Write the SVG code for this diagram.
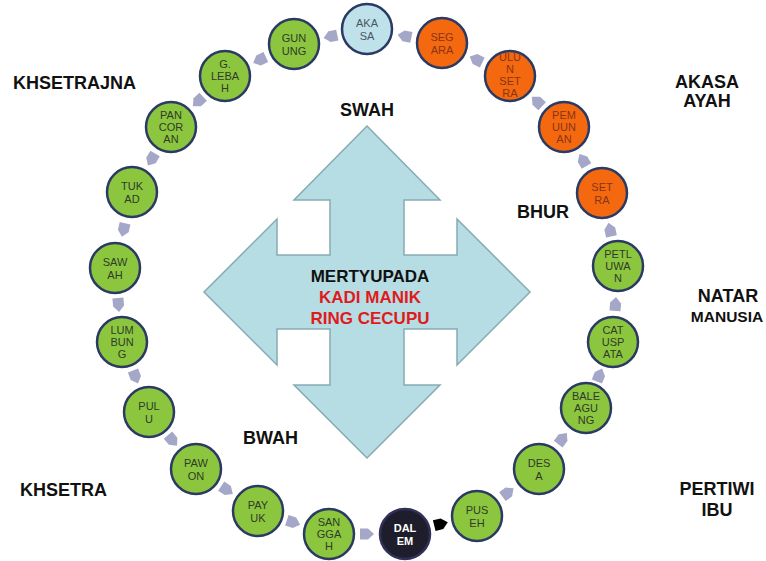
<svg xmlns="http://www.w3.org/2000/svg" width="766" height="561" viewBox="0 0 766 561">
<defs>
<style>
.lbl{font-family:"Liberation Sans",Arial,sans-serif;font-weight:bold;font-size:18px;fill:#111;}
.ct{font-family:"Liberation Sans",Arial,sans-serif;font-size:11px;text-anchor:middle;}
.n circle{stroke:#2b3a63;stroke-width:2.5;}
.g circle{fill:#8cc63e;}
.g text{fill:#2f3a2a;}
.o circle{fill:#f4690f;}
.o text{fill:#8a3414;}
.b circle{fill:#bfe1ea;}
.b text{fill:#4a5560;}
.d circle{fill:#1d1d2b;stroke:#30305a;}
.d text{fill:#fff;font-weight:bold;}
.ar{fill:#a5a7c9;}
.ctr{font-family:"Liberation Sans",Arial,sans-serif;font-weight:bold;font-size:17px;text-anchor:middle;}
</style>
<path id="arr" d="M-7,-5.5 L1,-5.5 L7,0 L1,5.5 L-7,5.5 Z"/>
</defs>
<rect width="766" height="561" fill="#fff"/>

<g id="cross">
<path d="M367,126 L440,200 L404,200 L404,255 L457,255 L457,219 L530,292 L457,365 L457,329 L404,329 L404,385 L440,385 L367,458 L294,385 L330,385 L330,329 L277,329 L277,365 L204,292 L277,219 L277,255 L330,255 L330,200 L294,200 Z" fill="#b6dde3" stroke="#86aab2" stroke-width="1.5"/>
<text class="ctr" x="370" y="282" fill="#111">MERTYUPADA</text>
<text class="ctr" x="370" y="303" fill="#e01b1b">KADI MANIK</text>
<text class="ctr" x="370" y="324" fill="#e01b1b">RING CECUPU</text>
</g>

<g id="labels">
<text class="lbl" x="13" y="89">KHSETRAJNA</text>
<text class="lbl" x="367" y="116" text-anchor="middle">SWAH</text>
<text class="lbl" x="707" y="88" text-anchor="middle">AKASA</text>
<text class="lbl" x="707" y="107" text-anchor="middle">AYAH</text>
<text class="lbl" x="517" y="218">BHUR</text>
<text class="lbl" x="728" y="302" text-anchor="middle">NATAR</text>
<text class="lbl" x="727" y="322" text-anchor="middle" style="font-size:15.5px">MANUSIA</text>
<text class="lbl" x="243" y="444">BWAH</text>
<text class="lbl" x="20" y="496">KHSETRA</text>
<text class="lbl" x="717" y="495" text-anchor="middle">PERTIWI</text>
<text class="lbl" x="717" y="516" text-anchor="middle">IBU</text>
</g>

<g id="connectors">
<use href="#arr" transform="translate(441,524) rotate(-14)" fill="#000"/>
<use href="#arr" class="ar" transform="translate(508,492.5) rotate(-37)"/>
<use href="#arr" class="ar" transform="translate(562.5,438.5) rotate(-52)"/>
<use href="#arr" class="ar" transform="translate(599.5,375) rotate(-68)"/>
<use href="#arr" class="ar" transform="translate(615.5,304) rotate(-86)"/>
<use href="#arr" class="ar" transform="translate(610,229.5) rotate(-102)"/>
<use href="#arr" class="ar" transform="translate(583,160) rotate(-120)"/>
<use href="#arr" class="ar" transform="translate(537,101.5) rotate(-137)"/>
<use href="#arr" class="ar" transform="translate(476,59.5) rotate(-154)"/>
<use href="#arr" class="ar" transform="translate(404.5,36) rotate(-169)"/>
<use href="#arr" class="ar" transform="translate(330.5,36.5) rotate(168)"/>
<use href="#arr" class="ar" transform="translate(259.5,60) rotate(155)"/>
<use href="#arr" class="ar" transform="translate(198,101.5) rotate(137)"/>
<use href="#arr" class="ar" transform="translate(151.5,159.5) rotate(121)"/>
<use href="#arr" class="ar" transform="translate(123.5,230) rotate(103)"/>
<use href="#arr" class="ar" transform="translate(118.5,305) rotate(85)"/>
<use href="#arr" class="ar" transform="translate(135.5,377) rotate(69)"/>
<use href="#arr" class="ar" transform="translate(172.5,440.5) rotate(50)"/>
<use href="#arr" class="ar" transform="translate(227,490) rotate(34)"/>
<use href="#arr" class="ar" transform="translate(293.5,522.5) rotate(18)"/>
<use href="#arr" class="ar" transform="translate(367,534) rotate(0)"/>
</g>

<g id="dalem" class="n d"><circle cx="405" cy="534" r="25"/><text class="ct" x="405" y="532">DAL</text><text class="ct" x="405" y="545">EM</text></g>
<g id="puseh" class="n g"><circle cx="477" cy="516" r="25"/><text class="ct" x="477" y="514">PUS</text><text class="ct" x="477" y="527">EH</text></g>
<g id="desa" class="n g"><circle cx="539" cy="469" r="25"/><text class="ct" x="539" y="467">DES</text><text class="ct" x="539" y="480">A</text></g>
<g id="baleagung" class="n g"><circle cx="586" cy="408" r="25"/><text class="ct" x="586" y="400">BALE</text><text class="ct" x="586" y="412">AGU</text><text class="ct" x="586" y="424">NG</text></g>
<g id="catuspata" class="n g"><circle cx="613" cy="342" r="25"/><text class="ct" x="613" y="334">CAT</text><text class="ct" x="613" y="346">USP</text><text class="ct" x="613" y="358">ATA</text></g>
<g id="petluwan" class="n g"><circle cx="618" cy="266" r="25"/><text class="ct" x="618" y="258">PETL</text><text class="ct" x="618" y="270">UWA</text><text class="ct" x="618" y="282">N</text></g>
<g id="setra" class="n o"><circle cx="602" cy="193" r="25"/><text class="ct" x="602" y="191">SET</text><text class="ct" x="602" y="204">RA</text></g>
<g id="pemuunan" class="n o"><circle cx="564" cy="127" r="25"/><text class="ct" x="564" y="119">PEM</text><text class="ct" x="564" y="131">UUN</text><text class="ct" x="564" y="143">AN</text></g>
<g id="ulunsetra" class="n o"><circle cx="510" cy="76" r="25"/><text class="ct" x="510" y="61">ULU</text><text class="ct" x="510" y="73">N</text><text class="ct" x="510" y="85">SET</text><text class="ct" x="510" y="97">RA</text></g>
<g id="segara" class="n o"><circle cx="442" cy="43" r="25"/><text class="ct" x="442" y="41">SEG</text><text class="ct" x="442" y="54">ARA</text></g>
<g id="akasa" class="n b"><circle cx="367" cy="29" r="25"/><text class="ct" x="367" y="27">AKA</text><text class="ct" x="367" y="40">SA</text></g>
<g id="gunung" class="n g"><circle cx="294" cy="44" r="25"/><text class="ct" x="294" y="42">GUN</text><text class="ct" x="294" y="55">UNG</text></g>
<g id="glebah" class="n g"><circle cx="225" cy="76" r="25"/><text class="ct" x="225" y="68">G.</text><text class="ct" x="225" y="80">LEBA</text><text class="ct" x="225" y="92">H</text></g>
<g id="pancoran" class="n g"><circle cx="171" cy="127" r="25"/><text class="ct" x="171" y="119">PAN</text><text class="ct" x="171" y="131">COR</text><text class="ct" x="171" y="143">AN</text></g>
<g id="tukad" class="n g"><circle cx="132" cy="192" r="25"/><text class="ct" x="132" y="190">TUK</text><text class="ct" x="132" y="203">AD</text></g>
<g id="sawah" class="n g"><circle cx="115" cy="268" r="25"/><text class="ct" x="115" y="266">SAW</text><text class="ct" x="115" y="279">AH</text></g>
<g id="lumbung" class="n g"><circle cx="122" cy="342" r="25"/><text class="ct" x="122" y="334">LUM</text><text class="ct" x="122" y="346">BUN</text><text class="ct" x="122" y="358">G</text></g>
<g id="pulu" class="n g"><circle cx="149" cy="412" r="25"/><text class="ct" x="149" y="410">PUL</text><text class="ct" x="149" y="423">U</text></g>
<g id="pawon" class="n g"><circle cx="196" cy="469" r="25"/><text class="ct" x="196" y="467">PAW</text><text class="ct" x="196" y="480">ON</text></g>
<g id="payuk" class="n g"><circle cx="258" cy="511" r="25"/><text class="ct" x="258" y="509">PAY</text><text class="ct" x="258" y="522">UK</text></g>
<g id="sanggah" class="n g"><circle cx="329" cy="534" r="25"/><text class="ct" x="329" y="526">SAN</text><text class="ct" x="329" y="538">GGA</text><text class="ct" x="329" y="550">H</text></g>
</svg>
